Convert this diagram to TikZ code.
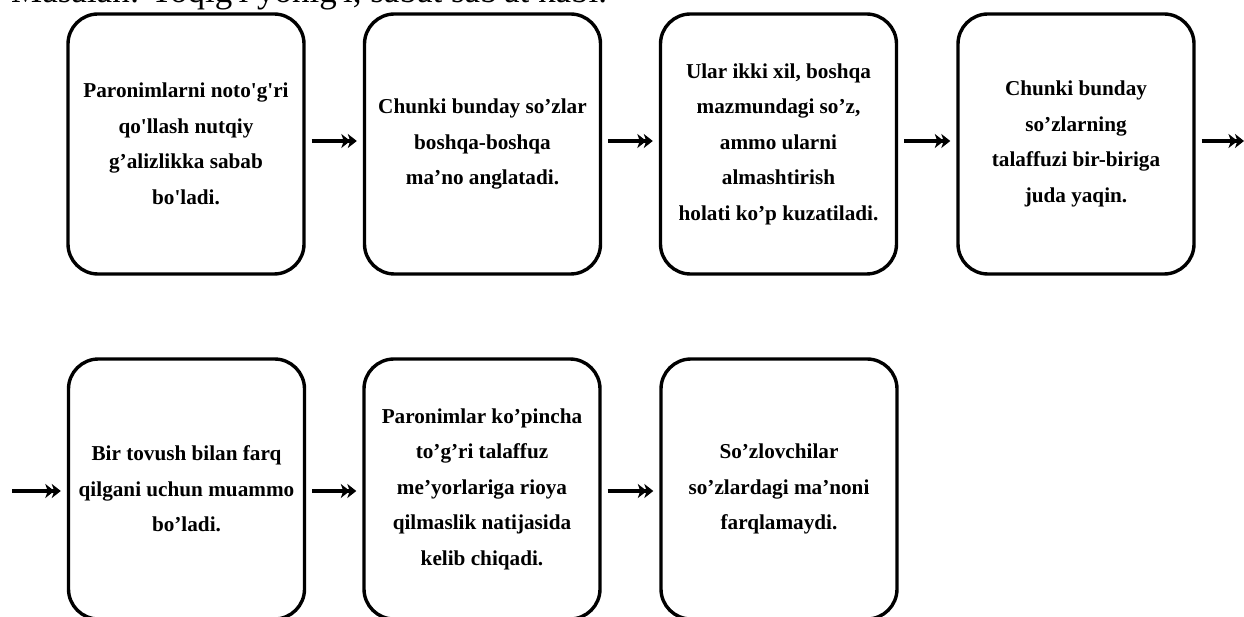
\documentclass[tikz,border=0pt]{standalone}
\usepackage{fontspec}
\setmainfont{Liberation Serif}
\usetikzlibrary{arrows.meta}
\tikzset{
  box/.style={draw, line width=3.4pt, rounded corners=30pt, minimum width=236pt, minimum height=260pt, inner sep=0pt, align=center, font=\bfseries\fontsize{21.2}{35.5}\selectfont},
  conn/.style={line width=3.4pt, -{Stealth[length=9pt,width=14pt,inset=2.5pt,sep=-2.5pt]Stealth[length=9pt,width=14pt,inset=2.5pt]}, shorten <=6pt, shorten >=6pt}
}
\begin{document}
\begin{tikzpicture}[x=1pt,y=-1pt]
\useasboundingbox[fill=white] (0,0) rectangle (1244,617);
\clip (0,0) rectangle (1244,617);
\node[anchor=base west, font=\fontsize{35}{36}\selectfont, inner sep=0pt] (top) at (11,3) {Masalan: Toqig\textquotesingle i yonig\textquotesingle i, sabat sab\textquotesingle at kabi.};
\node[box] (b1) at (186,144) {Paronimlarni noto\textquotesingle g\textquotesingle ri\\qo\textquotesingle llash nutqiy\\g’alizlikka sabab\\bo\textquotesingle ladi.};
\node[box] (b2) at (482.5,144) {Chunki bunday so’zlar\\boshqa-boshqa\\ma’no anglatadi.};
\node[box] (b3) at (778.5,144) {Ular ikki xil, boshqa\\mazmundagi so’z,\\ammo ularni\\almashtirish\\holati ko’p kuzatiladi.};
\node[box] (b4) at (1076,144) {Chunki bunday\\so’zlarning\\talaffuzi bir-biriga\\juda yaqin.};
\node[box] (b5) at (186.5,489) {Bir tovush bilan farq\\qilgani uchun muammo\\bo’ladi.};
\node[box] (b6) at (482,489) {Paronimlar ko’pincha\\to’g’ri talaffuz\\me’yorlariga rioya\\qilmaslik natijasida\\kelib chiqadi.};
\node[box] (b7) at (779,489) {So’zlovchilar\\so’zlardagi ma’noni\\farqlamaydi.};
\coordinate (out) at (1250,141);
\coordinate (in) at (6,491);
\draw[conn] (b1.east |- 0,141) -- (b2.west |- 0,141);
\draw[conn] (b2.east |- 0,141) -- (b3.west |- 0,141);
\draw[conn] (b3.east |- 0,141) -- (b4.west |- 0,141);
\draw[conn] (b4.east |- out) -- (out);
\draw[conn] (in) -- (b5.west |- in);
\draw[conn] (b5.east |- in) -- (b6.west |- in);
\draw[conn] (b6.east |- in) -- (b7.west |- in);
\end{tikzpicture}
\end{document}
